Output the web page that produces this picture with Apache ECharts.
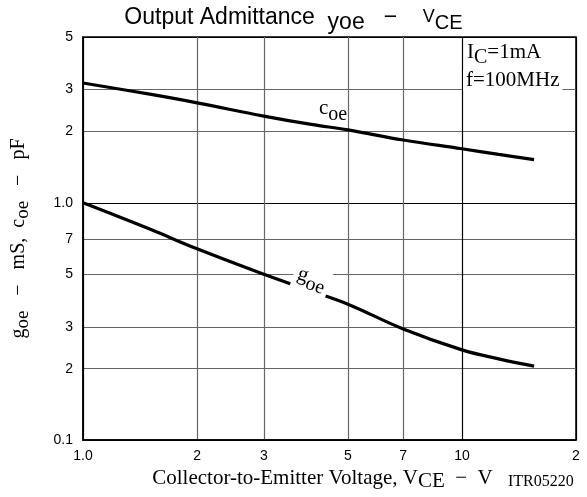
<!DOCTYPE html>
<html>
<head>
<meta charset="utf-8">
<script src="https://cdn.jsdelivr.net/npm/echarts@6/dist/echarts.min.js"></script>
<style>
html, body { margin: 0; padding: 0; background: #fff; }
#chart { width: 587px; height: 497px; }
</style>
</head>
<body>
<div id="chart"></div>
<script>
// collector-emitter voltage, V
var vce = [1, 1.5, 2, 3, 4, 5, 7, 10, 12.5, 15.5];
// output capacitance coe, pF
var coe = [3.2, 2.87, 2.64, 2.32, 2.14, 2.03, 1.84, 1.69, 1.60, 1.52];
// output conductance goe, mS
var goe = [1.0, 0.775, 0.64, 0.50, 0.425, 0.374, 0.294, 0.240, 0.220, 0.205];

var xTicks = [1, 2, 3, 5, 7, 10, 20];
var xTickText = ['1.0', '2', '3', '5', '7', '10', '2'];
var yTicks = [0.1, 0.2, 0.3, 0.5, 0.7, 1, 2, 3, 5];
var yTickText = ['0.1', '2', '3', '5', '7', '1.0', '2', '3', '5'];

var serif = 'Liberation Serif';
var sans = 'Liberation Sans';

function tickText(ticks, texts) {
    return function (v) {
        for (var i = 0; i < ticks.length; i++) {
            if (Math.abs(v - ticks[i]) / ticks[i] < 1e-4) return texts[i];
        }
        return '';
    };
}

function pairs(ys) {
    return vce.map(function (x, i) { return [x, ys[i]]; });
}

var grey = '#666';

var myChart = echarts.init(document.getElementById('chart'));
myChart.setOption({
    animation: false,
    backgroundColor: '#fff',
    title: {
        left: 'center',
        top: 1,
        text: '{a|Output Admittance  }{b|yoe}{a|   −    }{c|V}{d|CE}',
        textStyle: {
            rich: {
                a: { fontFamily: sans, fontSize: 23, fontWeight: 'normal', color: '#000', verticalAlign: 'bottom', padding: [0, 0, 5, 0] },
                b: { fontFamily: sans, fontSize: 23, fontWeight: 'normal', color: '#000', verticalAlign: 'bottom' },
                c: { fontFamily: sans, fontSize: 18, fontWeight: 'normal', color: '#000', verticalAlign: 'bottom', padding: [0, 0, 8, 0] },
                d: { fontFamily: sans, fontSize: 20, fontWeight: 'normal', color: '#000', verticalAlign: 'bottom', padding: [0, 0, 1, 0] }
            }
        }
    },
    grid: {
        left: 83,
        right: 11,
        top: 37,
        bottom: 53,
        show: true,
        borderColor: '#000',
        borderWidth: 1.5
    },
    xAxis: {
        type: 'log',
        min: 1,
        max: 20,
        name: '{a|Collector-to-Emitter Voltage, V}{b|CE}{a|  −  V}',
        nameLocation: 'middle',
        nameGap: 24,
        nameTextStyle: {
            padding: [0, 14, 0, 0],
            rich: {
                a: { fontFamily: serif, fontSize: 21, color: '#000', verticalAlign: 'bottom', padding: [0, 0, 3, 0] },
                b: { fontFamily: serif, fontSize: 21, color: '#000', verticalAlign: 'bottom' }
            }
        },
        axisLine: { show: true, lineStyle: { color: '#000', width: 1.5 } },
        axisTick: { show: false, customValues: xTicks },
        axisLabel: {
            customValues: xTicks,
            formatter: tickText(xTicks, xTickText),
            fontFamily: sans,
            fontSize: 14,
            color: '#000',
            margin: 9
        },
        splitLine: {
            show: true,
            lineStyle: { color: ['#000', grey, grey, grey, grey, '#000', '#000'], width: 1.2 }
        }
    },
    yAxis: {
        type: 'log',
        min: 0.1,
        max: 5,
        name: '{a|g}{b|oe}{a|   −   mS,  c}{b|oe}{a|   −   pF}',
        nameLocation: 'middle',
        nameRotate: 90,
        nameGap: 50,
        nameTextStyle: {
            rich: {
                a: { fontFamily: serif, fontSize: 20, color: '#000', verticalAlign: 'bottom', padding: [0, 0, 4, 0] },
                b: { fontFamily: serif, fontSize: 19, color: '#000', verticalAlign: 'bottom' }
            }
        },
        axisLine: { show: true, lineStyle: { color: '#000', width: 1.5 } },
        axisTick: { show: false, customValues: yTicks },
        axisLabel: {
            customValues: yTicks,
            formatter: tickText(yTicks, yTickText),
            fontFamily: sans,
            fontSize: 14,
            color: '#000',
            margin: 10
        },
        splitLine: {
            show: true,
            lineStyle: { color: ['#000', grey, grey, grey, grey, '#000', grey, grey, '#000'], width: 1.2 }
        }
    },
    series: [
        {
            name: 'coe',
            type: 'line',
            data: pairs(coe),
            smooth: 0.4,
            showSymbol: false,
            lineStyle: { color: '#000', width: 3.2 },
            z: 5
        },
        {
            name: 'goe',
            type: 'line',
            data: pairs(goe),
            smooth: 0.4,
            showSymbol: false,
            lineStyle: { color: '#000', width: 3.2 },
            z: 5
        }
    ],
    graphic: [
        {
            type: 'text',
            left: 319,
            top: 98,
            z: 10,
            style: {
                text: '{a|c}{b|oe}',
                rich: {
                    a: { fontFamily: serif, fontSize: 21, fill: '#000', verticalAlign: 'bottom', padding: [0, 0, 6, 0] },
                    b: { fontFamily: serif, fontSize: 20, fill: '#000', verticalAlign: 'bottom' }
                }
            }
        },
        {
            type: 'text',
            x: 311,
            y: 281,
            rotation: -0.33,
            z: 10,
            style: {
                text: '{a|g}{b|oe}',
                align: 'center',
                verticalAlign: 'middle',
                backgroundColor: '#fff',
                padding: [0, 4],
                rich: {
                    a: { fontFamily: serif, fontSize: 21, fill: '#000', verticalAlign: 'bottom', padding: [0, 0, 6, 0] },
                    b: { fontFamily: serif, fontSize: 20, fill: '#000', verticalAlign: 'bottom' }
                }
            }
        },
        {
            type: 'text',
            left: 467,
            top: 42,
            z: 10,
            style: {
                text: '{a|I}{b|C}{a|=1mA}',
                rich: {
                    a: { fontFamily: serif, fontSize: 21, fill: '#000', verticalAlign: 'bottom', padding: [0, 0, 5, 0] },
                    b: { fontFamily: serif, fontSize: 20, fill: '#000', verticalAlign: 'bottom' }
                }
            }
        },
        {
            type: 'text',
            left: 463,
            top: 70,
            z: 10,
            style: {
                text: 'f=100MHz',
                fontFamily: serif,
                fontSize: 21,
                fill: '#000',
                backgroundColor: '#fff',
                padding: [0, 3]
            }
        },
        {
            type: 'text',
            left: 508,
            top: 474,
            z: 10,
            style: {
                text: 'ITR05220',
                fontFamily: serif,
                fontSize: 16,
                fill: '#000'
            }
        }
    ]
});
</script>
</body>
</html>
